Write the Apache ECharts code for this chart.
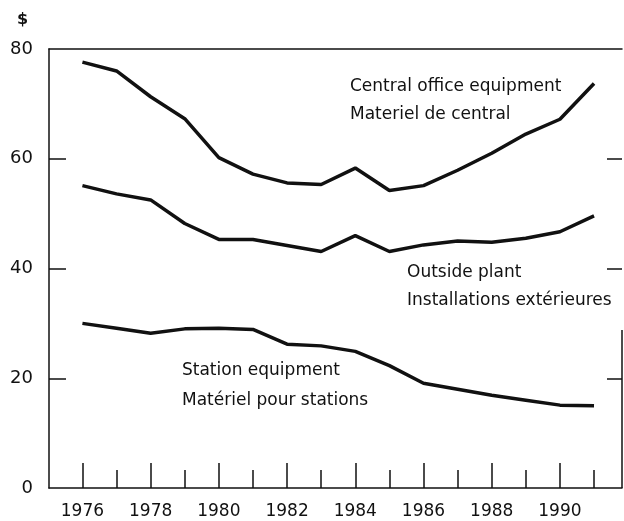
<!DOCTYPE html>
<html>
<head>
<meta charset="utf-8">
<script src="https://cdn.jsdelivr.net/npm/echarts@6/dist/echarts.min.js"></script>
<style>
  html, body { margin: 0; padding: 0; background: #fff; }
  #chart { width: 624px; height: 521px; }
</style>
</head>
<body>
<div id="chart"></div>
<script>
const years = [1976, 1977, 1978, 1979, 1980, 1981, 1982, 1983, 1984, 1985, 1986, 1987, 1988, 1989, 1990, 1991]
const centralOffice = [77.6, 76.0, 71.3, 67.3, 60.2, 57.2, 55.6, 55.3, 58.3, 54.2, 55.1, 57.9, 61.0, 64.5, 67.2, 73.7]
const outsidePlant = [55.1, 53.6, 52.5, 48.2, 45.3, 45.3, 44.2, 43.1, 46.0, 43.1, 44.3, 45.0, 44.8, 45.5, 46.7, 49.6]
const station = [30.0, 29.1, 28.2, 29.0, 29.1, 28.9, 26.2, 25.9, 24.9, 22.3, 19.1, 18.0, 16.9, 16.0, 15.1, 15.0]
const evenYears = [1976, 1978, 1980, 1982, 1984, 1986, 1988, 1990]
const oddYears = [1977, 1979, 1981, 1983, 1985, 1987, 1989, 1991]
const yTicks = [20, 40, 60]

const ink = '#111'
const font = 'DejaVu Sans'
const pairs = (vals) => vals.map((v, i) => [years[i], v])

const chart = echarts.init(document.getElementById('chart'))
const lineSeries = (name, vals) => ({
  name,
  type: 'line',
  data: pairs(vals),
  showSymbol: false,
  lineStyle: { color: ink, width: 3.5 },
  itemStyle: { color: ink },
  silent: true
})

const note = (text, x, y) => ({
  type: 'text',
  x,
  y,
  style: { text, fill: ink, font: '17px "DejaVu Sans"', textVerticalAlign: 'middle' }
})

const option = {
  animation: false,
  backgroundColor: '#fff',
  grid: { left: 49, right: 2, top: 49, bottom: 33 },
  xAxis: [
    {
      type: 'value',
      min: 1975.02,
      max: 1991.82,
      position: 'bottom',
      axisLine: { show: true, lineStyle: { color: ink, width: 1.5 } },
      axisTick: { show: true, inside: true, length: 25, customValues: evenYears, lineStyle: { color: ink, width: 1.5 } },
      axisLabel: { customValues: evenYears, color: ink, fontFamily: font, fontSize: 17, margin: 15, formatter: (v) => String(v) },
      splitLine: { show: false }
    },
    {
      type: 'value',
      min: 1975.02,
      max: 1991.82,
      position: 'bottom',
      axisLine: { show: false },
      axisTick: { show: true, inside: true, length: 18, customValues: oddYears, lineStyle: { color: ink, width: 1.5 } },
      axisLabel: { show: false },
      splitLine: { show: false }
    },
    {
      type: 'value',
      min: 1975.02,
      max: 1991.82,
      position: 'top',
      axisLine: { show: true, lineStyle: { color: ink, width: 1.5 } },
      axisTick: { show: false },
      axisLabel: { show: false },
      splitLine: { show: false }
    }
  ],
  yAxis: [
    {
      type: 'value',
      min: 0,
      max: 80,
      interval: 20,
      position: 'left',
      axisLine: { show: true, lineStyle: { color: ink, width: 1.5 } },
      axisTick: { show: true, inside: true, length: 17, customValues: yTicks, lineStyle: { color: ink, width: 1.5 } },
      axisLabel: { color: ink, fontFamily: font, fontSize: 18, margin: 16 },
      splitLine: { show: false }
    },
    {
      type: 'value',
      min: 0,
      max: 80,
      interval: 20,
      position: 'right',
      axisLine: { show: false },
      axisTick: { show: true, inside: true, length: 15, customValues: yTicks, lineStyle: { color: ink, width: 1.5 } },
      axisLabel: { show: false },
      splitLine: { show: false }
    }
  ],
  graphic: [
    { type: 'text', x: 17, y: 20, style: { text: '$', fill: ink, font: 'bold 16px "DejaVu Sans"', textVerticalAlign: 'middle' } },
    { type: 'line', shape: { x1: 622, y1: 330, x2: 622, y2: 488 }, style: { stroke: ink, lineWidth: 1.5 } },
    note('Central office equipment', 350, 87),
    note('Materiel de central', 350, 115),
    note('Outside plant', 407, 273),
    note('Installations extérieures', 407, 301),
    note('Station equipment', 182, 371),
    note('Matériel pour stations', 182, 401)
  ],
  series: [
    lineSeries('Central office equipment', centralOffice),
    lineSeries('Outside plant', outsidePlant),
    lineSeries('Station equipment', station)
  ]
}

chart.setOption(option)
</script>
</body>
</html>
